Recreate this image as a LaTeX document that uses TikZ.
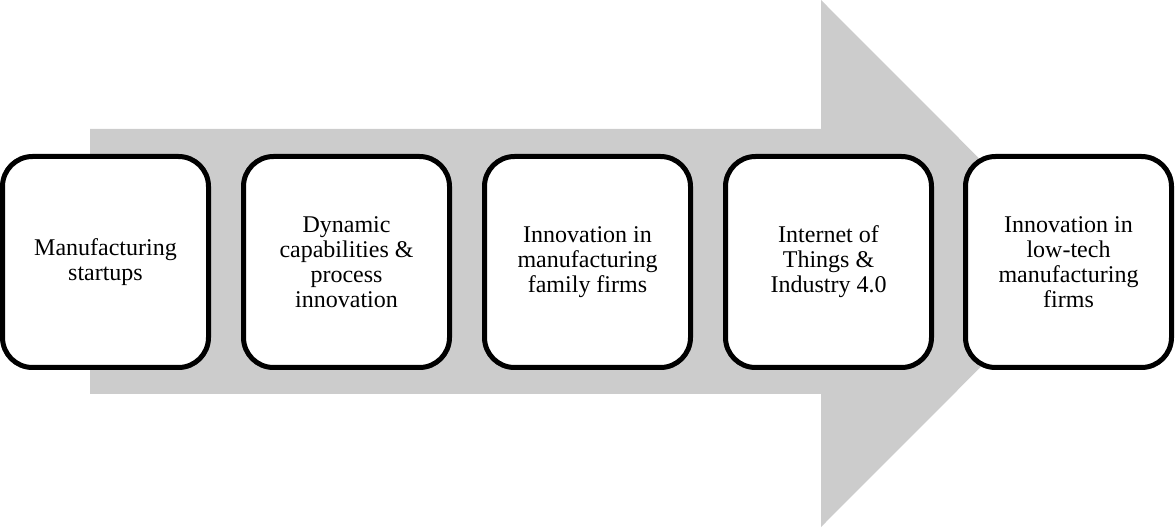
\documentclass[tikz,border=0pt]{standalone}
\usepackage{fontspec}
\setmainfont{Liberation Serif}
\begin{document}
\begin{tikzpicture}[x=1pt,y=-1pt,
  stagebox/.style={draw=black, fill=white, line width=5pt, rounded corners=30pt,
    minimum width=206pt, minimum height=211pt, inner sep=0pt, align=center,
    font=\fontsize{24}{25}\selectfont}]
\useasboundingbox (0,0) rectangle (1176,529);
\fill[black!20] (90,129) -- (821,129) -- (821,0) -- (1084,263.5) -- (821,527) -- (821,394) -- (90,394) -- cycle;
\node[stagebox] (s1) at (105.5,262) {Manufacturing\\startups};
\node[stagebox] (s2) at (346.5,262) {Dynamic\\capabilities \&\\process\\innovation};
\node[stagebox] (s3) at (587.5,262) {Innovation in\\manufacturing\\family firms};
\node[stagebox] (s4) at (828.5,262) {Internet of\\Things \&\\Industry 4.0};
\node[stagebox] (s5) at (1068.5,262) {Innovation in\\low-tech\\manufacturing\\firms};
\end{tikzpicture}
\end{document}
